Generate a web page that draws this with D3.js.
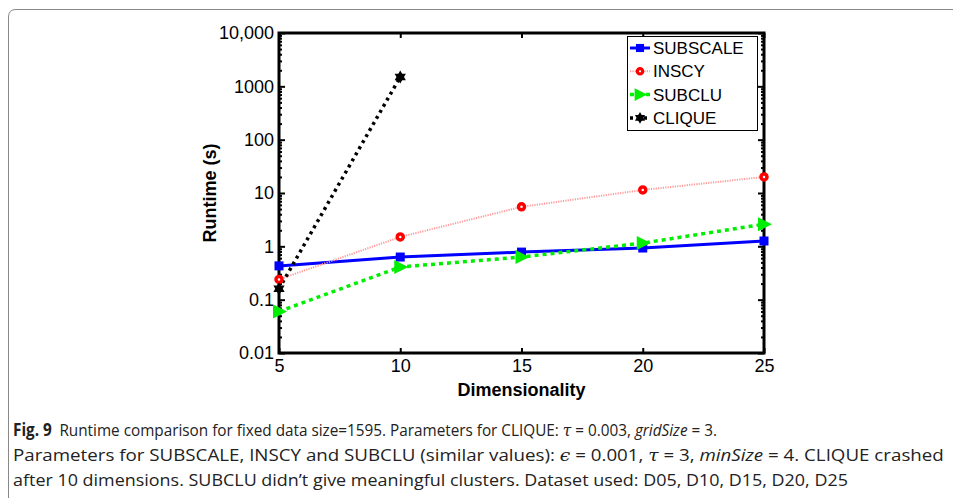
<!doctype html>
<html>
  <head>
    <script src="https://cdnjs.cloudflare.com/ajax/libs/d3/7.8.5/d3.min.js"></script>
    <style>
      body { margin: 0; background: #fff; }
      svg { display: block; }
      .tick text { font-family: "Liberation Sans", Arial, sans-serif; font-size: 18px; fill: #000; }
      .axis-title { font-family: "Liberation Sans", Arial, sans-serif; font-size: 18px; font-weight: bold; }
      .legend text { font-family: "Liberation Sans", Arial, sans-serif; font-size: 17px; }
      .caption { font-family: "Open Sans", sans-serif; font-size: 17px; fill: #222; }
    </style>
  </head>
  <body>
    <svg width="953" height="498"></svg>
    <script>
      var dims = [5, 10, 15, 20, 25];
      var subscale = [0.43, 0.63, 0.78, 0.93, 1.26];
      var inscy = [0.24, 1.5, 5.5, 11.4, 20];
      var subclu = [0.06, 0.41, 0.63, 1.15, 2.6];
      var clique = [0.16, 1500];
      var yTicks = [0.01, 0.1, 1, 10, 100, 1000, 10000];
      var yTickLabels = ["0.01", "0.1", "1", "10", "100", "1000", "10,000"];

      var series = [
        { name: "SUBSCALE", values: subscale, color: "#0000ff", dash: null, width: 3, marker: "square" },
        { name: "INSCY", values: inscy, color: "#ff9a9a", dash: "1.2 1.2", width: 2, marker: "circle" },
        { name: "SUBCLU", values: subclu, color: "#00ee00", dash: "4 4", width: 3.5, marker: "triangle" },
        { name: "CLIQUE", values: clique, color: "#000", dash: "3 4", width: 3.5, marker: "star" }
      ];

      var svg = d3.select("svg");

      // figure frame
      svg.append("path")
        .attr("d", "M8.5,498 L8.5,17 Q8.5,9.5 16,9.5 L953,9.5")
        .attr("fill", "none").attr("stroke", "#888").attr("stroke-width", 1);

      var pLeft = 279, pRight = 764, pTop = 33, pBottom = 353;
      var x = d3.scaleLinear().domain([5, 25]).range([pLeft, pRight]);
      var y = d3.scaleLog().domain([0.01, 10000]).range([pBottom, pTop]);

      var minor = [];
      for (var e = -2; e < 4; e++)
        for (var m = 2; m < 10; m++) minor.push(m * Math.pow(10, e));

      var g = svg.append("g");

      // ticks (inward, MATLAB style)
      g.append("g").attr("transform", "translate(0," + pBottom + ")")
        .call(d3.axisBottom(x).tickValues(dims).tickSize(-5).tickPadding(6).tickFormat(d3.format("d")))
        .call(a => a.select(".domain").remove())
        .call(a => a.selectAll("line").attr("stroke-width", 2));
      g.append("g").attr("transform", "translate(0," + pTop + ")")
        .call(d3.axisTop(x).tickValues(dims).tickSize(-5).tickFormat(""))
        .call(a => a.select(".domain").remove())
        .call(a => a.selectAll("line").attr("stroke-width", 2));
      g.append("g").attr("transform", "translate(" + pLeft + ",0)")
        .call(d3.axisLeft(y).tickValues(yTicks).tickSize(-6).tickPadding(5).tickFormat((d, i) => yTickLabels[i]))
        .call(a => a.select(".domain").remove())
        .call(a => a.selectAll("line").attr("stroke-width", 2));
      g.append("g").attr("transform", "translate(" + pLeft + ",0)")
        .call(d3.axisLeft(y).tickValues(minor).tickSize(-3).tickFormat(""))
        .call(a => a.select(".domain").remove())
        .call(a => a.selectAll("line").attr("stroke-width", 2));
      g.append("g").attr("transform", "translate(" + pRight + ",0)")
        .call(d3.axisRight(y).tickValues(yTicks).tickSize(-6).tickFormat(""))
        .call(a => a.select(".domain").remove())
        .call(a => a.selectAll("line").attr("stroke-width", 2));
      g.append("g").attr("transform", "translate(" + pRight + ",0)")
        .call(d3.axisRight(y).tickValues(minor).tickSize(-3).tickFormat(""))
        .call(a => a.select(".domain").remove())
        .call(a => a.selectAll("line").attr("stroke-width", 2));

      g.append("rect")
        .attr("x", pLeft).attr("y", pTop).attr("width", pRight - pLeft).attr("height", pBottom - pTop)
        .attr("fill", "none").attr("stroke", "#000").attr("stroke-width", 3);

      // axis titles
      svg.append("text").attr("class", "axis-title")
        .attr("x", (pLeft + pRight) / 2).attr("y", 396).attr("text-anchor", "middle")
        .text("Dimensionality");
      svg.append("text").attr("class", "axis-title")
        .attr("transform", "translate(216," + (pTop + pBottom) / 2 + ") rotate(-90)")
        .attr("text-anchor", "middle")
        .text("Runtime (s)");

      function marker(sel, s, cx, cy, scale) {
        var k = scale || 1;
        if (s.marker === "square") {
          sel.append("rect").attr("x", cx - 4.5 * k).attr("y", cy - 4.5 * k)
            .attr("width", 9 * k).attr("height", 9 * k).attr("fill", s.color);
        } else if (s.marker === "circle") {
          sel.append("circle").attr("cx", cx).attr("cy", cy).attr("r", 3 * k)
            .attr("fill", "#fff").attr("stroke", "#ff0000").attr("stroke-width", 3.5 * k);
        } else if (s.marker === "triangle") {
          sel.append("path")
            .attr("d", "M" + (cx - 6 * k) + "," + (cy - 7 * k) + "L" + (cx + 8 * k) + "," + cy + "L" + (cx - 6 * k) + "," + (cy + 7 * k) + "Z")
            .attr("fill", s.color);
        } else {
          sel.append("path").attr("transform", "translate(" + cx + "," + cy + ")")
            .attr("d", d3.symbol().type(d3.symbolTriangle).size(55 * k * k)())
            .attr("fill", "#000");
          sel.append("path").attr("transform", "translate(" + cx + "," + cy + ") rotate(180)")
            .attr("d", d3.symbol().type(d3.symbolTriangle).size(55 * k * k)())
            .attr("fill", "#000");
        }
      }

      var line = d3.line().x((d, i) => x(dims[i])).y(d => y(d));

      var plot = svg.append("g");
      series.forEach(s => {
        plot.append("path").datum(s.values)
          .attr("d", line)
          .attr("fill", "none")
          .attr("stroke", s.color)
          .attr("stroke-width", s.width)
          .attr("stroke-dasharray", s.dash);
      });
      series.forEach(s => {
        s.values.forEach((v, i) => marker(plot, s, x(dims[i]), y(v)));
      });

      // legend
      var lg = svg.append("g").attr("class", "legend");
      lg.append("rect").attr("x", 627.5).attr("y", 36.5).attr("width", 130).attr("height", 94)
        .attr("fill", "#fff").attr("stroke", "#000").attr("stroke-width", 1);
      series.forEach((s, i) => {
        var ly = 48 + i * 23.3;
        lg.append("line").attr("x1", 630).attr("x2", 650).attr("y1", ly).attr("y2", ly)
          .attr("stroke", s.color).attr("stroke-width", s.width).attr("stroke-dasharray", s.dash);
        marker(lg, s, 640, ly, 0.9);
        lg.append("text").attr("x", 653).attr("y", ly + 6).text(s.name);
      });

      // caption: each line squeezed to the width it has in the figure
      var capLines = [
        [436, 718, [["Fig. 9", "b"], ["\u2002Runtime comparison for fixed data size=1595. Parameters for CLIQUE: "],
          ["\u03c4", "m"], [" = 0.003, "], ["gridSize", "i"], [" = 3."]]],
        [461, 945, [["Parameters for SUBSCALE, INSCY and SUBCLU (similar values): "], ["\u03f5", "m"],
          [" = 0.001, "], ["\u03c4", "m"], [" = 3, "], ["minSize", "i"], [" = 4. CLIQUE crashed"]]],
        [486, 848, [["after 10 dimensions. SUBCLU didn\u2019t give meaningful clusters. Dataset used: D05, D10, D15, D20, D25"]]]
      ];
      capLines.forEach(c => {
        var t = svg.append("text").attr("class", "caption").attr("x", 0).attr("y", 0);
        c[2].forEach(p => {
          var sp = t.append("tspan").text(p[0]);
          if (p[1] === "b") sp.attr("font-weight", "bold");
          if (p[1] === "i") sp.attr("font-style", "italic");
          if (p[1] === "m") sp.attr("font-style", "italic").attr("font-family", "DejaVu Serif");
        });
        var sx = (c[1] - 13) / t.node().getBBox().width;
        t.attr("transform", "translate(13," + c[0] + ") scale(" + sx + ",1)");
      });
    </script>
  </body>
</html>
